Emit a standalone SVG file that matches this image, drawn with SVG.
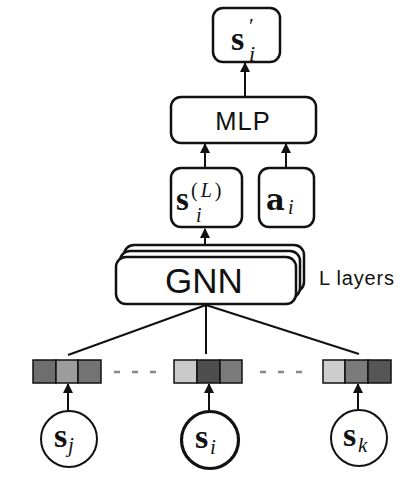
<svg xmlns="http://www.w3.org/2000/svg" width="415" height="479" viewBox="0 0 415 479">
<style>
.box{fill:#fff;stroke:#111;stroke-width:2.5}
.ln{stroke:#111;stroke-width:2;fill:none}
.cell{stroke:#111;stroke-width:1.5}
.sans{font-family:"Liberation Sans",Arial,sans-serif;fill:#111}
.m{font-family:"Liberation Serif","DejaVu Serif",serif;fill:#111}
.b{font-weight:bold}
.it{font-style:italic}
.dash{stroke:#888;stroke-width:2.5;stroke-dasharray:6 12}
</style>
<defs>
<marker id="ah" markerWidth="10" markerHeight="12" refX="9" refY="5" orient="auto" markerUnits="userSpaceOnUse" viewBox="0 0 10 10">
<path d="M0,0 L10,5 L0,10 Z" fill="#111"/>
</marker>
</defs>
<rect width="415" height="479" fill="#fff"/>
<g id="connectors">
<line class="ln" x1="245" y1="97" x2="245" y2="63" marker-end="url(#ah)"/>
<line class="ln" x1="205" y1="168" x2="205" y2="144" marker-end="url(#ah)"/>
<line class="ln" x1="286" y1="168" x2="286" y2="144" marker-end="url(#ah)"/>
<line class="ln" x1="205" y1="249" x2="205" y2="229" marker-end="url(#ah)"/>
<line class="ln" x1="206" y1="305" x2="68" y2="355"/>
<line class="ln" x1="206" y1="305" x2="206" y2="354"/>
<line class="ln" x1="206" y1="305" x2="359" y2="354"/>
<line class="ln" x1="68" y1="411" x2="68" y2="384" marker-end="url(#ah)"/>
<line class="ln" x1="209" y1="411" x2="209" y2="384" marker-end="url(#ah)"/>
<line class="ln" x1="358" y1="411" x2="358" y2="384" marker-end="url(#ah)"/>
<line class="dash" x1="114" y1="372" x2="168" y2="372"/>
<line class="dash" x1="260" y1="372" x2="314" y2="372"/>
</g>
<g id="s_prime">
<rect class="box" x="213" y="8" width="67" height="54" rx="10"/>
<text class="m b" x="231" y="50" font-size="34">s</text>
<text class="m" x="249" y="33" font-size="22">′</text>
<text class="m it" x="249" y="61" font-size="22">i</text>
</g>
<g id="mlp">
<rect class="box" x="171" y="97" width="145" height="46" rx="10"/>
<text class="sans" x="243" y="130" font-size="25.5" letter-spacing="1" text-anchor="middle">MLP</text>
</g>
<g id="s_L">
<rect class="box" x="171" y="168" width="71" height="59" rx="10"/>
<text class="m b" x="176" y="210" font-size="33">s</text>
<text class="m" x="191" y="197" font-size="20" letter-spacing="3">(<tspan class="it">L</tspan>)</text>
<text class="m it" x="196" y="222" font-size="20">i</text>
</g>
<g id="a_i">
<rect class="box" x="259" y="168" width="55" height="59" rx="10"/>
<text class="b" x="266" y="210" font-size="29" font-family="'DejaVu Serif','Liberation Serif',serif" fill="#111">a</text>
<text class="m it" x="288" y="214" font-size="20">i</text>
</g>
<g id="gnn">
<rect class="box" x="124" y="245" width="180" height="47" rx="10"/>
<rect class="box" x="120" y="251" width="180" height="47" rx="10"/>
<rect class="box" x="116" y="257" width="180" height="47" rx="10"/>
<text class="sans" x="204" y="293" font-size="35" text-anchor="middle">GNN</text>
<text class="sans" x="319" y="285" font-size="20" letter-spacing="0.8">L layers</text>
</g>
<g id="vec_j">
<rect class="cell" x="33" y="360" width="23" height="23" fill="#6e6e6e"/>
<rect class="cell" x="56" y="360" width="22" height="23" fill="#9c9c9c"/>
<rect class="cell" x="78" y="360" width="23" height="23" fill="#737373"/>
</g>
<g id="vec_i">
<rect class="cell" x="174" y="360" width="23" height="23" fill="#cacaca"/>
<rect class="cell" x="197" y="360" width="23" height="23" fill="#4e4e4e"/>
<rect class="cell" x="220" y="360" width="22" height="23" fill="#7b7b7b"/>
</g>
<g id="vec_k">
<rect class="cell" x="323" y="360" width="22" height="23" fill="#cdcdcd"/>
<rect class="cell" x="345" y="360" width="23" height="23" fill="#7b7b7b"/>
<rect class="cell" x="368" y="360" width="23" height="23" fill="#565656"/>
</g>
<g id="node_j">
<circle cx="69" cy="439" r="28" fill="#fff" stroke="#111" stroke-width="2"/>
<text class="m b" x="54" y="447" font-size="34">s</text>
<text class="m it" x="68" y="452" font-size="21">j</text>
</g>
<g id="node_i">
<circle cx="210" cy="440" r="28.5" fill="#fff" stroke="#111" stroke-width="3.2"/>
<text class="m b" x="195" y="448" font-size="34">s</text>
<text class="m it" x="210" y="454" font-size="21">i</text>
</g>
<g id="node_k">
<circle cx="359" cy="438" r="28" fill="#fff" stroke="#111" stroke-width="2"/>
<text class="m b" x="343" y="446" font-size="34">s</text>
<text class="m it" x="358" y="452" font-size="21">k</text>
</g>
</svg>
